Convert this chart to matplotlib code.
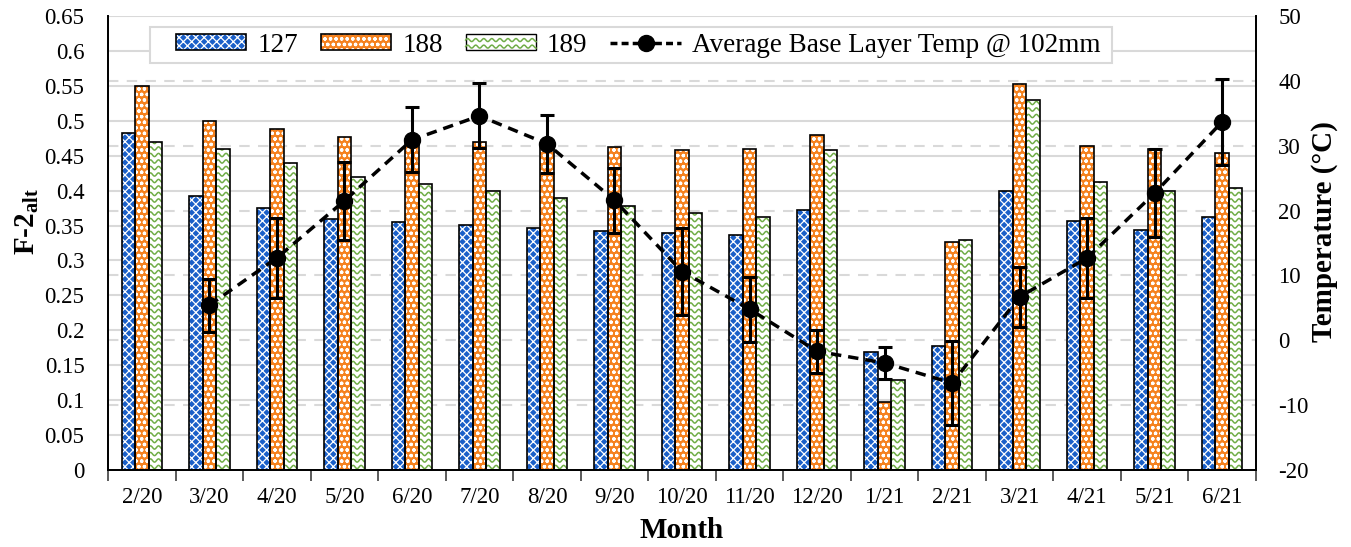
import numpy as np
import matplotlib
matplotlib.use('Agg')
import matplotlib.pyplot as plt
from matplotlib.patches import Rectangle
from matplotlib.lines import Line2D
from matplotlib.collections import LineCollection
from matplotlib.legend_handler import HandlerBase, HandlerTuple
from matplotlib.transforms import blended_transform_factory

plt.rcParams['font.family'] = ['Liberation Serif', 'DejaVu Serif']
plt.rcParams['mathtext.fontset'] = 'custom'
plt.rcParams['mathtext.rm'] = 'Liberation Serif'
plt.rcParams['mathtext.bf'] = 'Liberation Serif:bold'
plt.rcParams['hatch.linewidth'] = 0.9

# Monthly F-2alt values for the three sections and base layer temperature
months = ['2/20', '3/20', '4/20', '5/20', '6/20', '7/20', '8/20', '9/20', '10/20',
          '11/20', '12/20', '1/21', '2/21', '3/21', '4/21', '5/21', '6/21']
f2_127 = [0.482, 0.393, 0.375, 0.360, 0.355, 0.351, 0.347, 0.342, 0.339,
          0.337, 0.372, 0.169, 0.177, 0.400, 0.357, 0.344, 0.362]
f2_188 = [0.550, 0.500, 0.488, 0.477, 0.470, 0.470, 0.465, 0.462, 0.458,
          0.460, 0.480, 0.098, 0.326, 0.553, 0.464, 0.460, 0.454]
f2_189 = [0.470, 0.460, 0.440, 0.420, 0.410, 0.400, 0.390, 0.378, 0.368,
          0.362, 0.458, 0.129, 0.330, 0.530, 0.412, 0.400, 0.404]
temp = [np.nan, 5.4, 12.7, 21.5, 30.9, 34.6, 30.3, 21.6, 10.6,
        4.8, -1.7, -3.5, -6.6, 6.7, 12.7, 22.7, 33.7]
temp_err = [np.nan, 4.1, 6.2, 6.0, 5.0, 5.0, 4.5, 5.0, 6.7,
            5.0, 3.3, 2.4, 6.5, 4.6, 6.2, 6.8, 6.6]

blue = '#1A5FC8'
orange = '#F5821F'
green = '#70AD47'
grid_gray = '#D9D9D9'

fig = plt.figure(figsize=(13.51, 5.47), dpi=100)
ax = fig.add_axes([108 / 1351, 77 / 547, 1148 / 1351, 454 / 547])
ax2 = ax.twinx()

x = np.arange(len(months))
w = 0.2
ax.set_xlim(-0.5, len(months) - 0.5)
ax.set_ylim(0, 0.65)
ax2.set_ylim(-20, 50)

# solid grid for the left axis, dashed grid for the temperature axis
for v in np.arange(0.05, 0.651, 0.05):
    ax.axhline(v, color=grid_gray, lw=1.5, zorder=0)
tr = blended_transform_factory(ax.transAxes, ax2.transData)
for t in range(-10, 41, 10):
    ax.plot([0, 1], [t, t], transform=tr, color=grid_gray, lw=1.5,
            dashes=(5, 4), zorder=0.5)


def hatched_bars(xpos, vals, face, hatch):
    fill = ax.bar(xpos, vals, w, color=face, edgecolor='white', hatch=hatch,
                  lw=0, zorder=2)
    edge = ax.bar(xpos, vals, w, fill=False, edgecolor='black', lw=1.2, zorder=3)
    return fill, edge


b1 = hatched_bars(x - w, f2_127, blue, 'xxxx')
b2 = hatched_bars(x, f2_188, orange, 'ooo')
g_fill = ax.bar(x + w, f2_189, w, color='white', lw=0, zorder=2)
g_edge = ax.bar(x + w, f2_189, w, fill=False, edgecolor='black', lw=1.2, zorder=3)

# wavy green pattern inside the 189 bars, clipped to each bar
fig.canvas.draw()
inv = ax.transData.inverted()
p0 = inv.transform((0, 0))
p1 = inv.transform((1, 1))
dx, dy = p1[0] - p0[0], p1[1] - p0[1]
for bar in g_fill.patches:
    x0, bw, h = bar.get_x(), bar.get_width(), bar.get_height()
    xs = np.linspace(x0, x0 + bw, 40)
    segs = []
    for row in np.arange(3 * dy, h + 4 * dy, 6.5 * dy):
        ys = row + 1.6 * dy * np.sin(2 * np.pi * (xs - x0) / (8 * dx))
        segs.append(np.column_stack([xs, ys]))
    lc = LineCollection(segs, colors=green, linewidths=1.1, zorder=2.5)
    ax.add_collection(lc)
    lc.set_clip_path(bar)

# temperature line with error bars
ax2.errorbar(x, temp, yerr=temp_err, color='black', lw=2.5, dashes=(3, 2),
             marker='o', markersize=11.5, elinewidth=2.2, capsize=5, capthick=2.2,
             zorder=5)

# axes styling
ax.set_xticks(x)
ax.set_xticklabels(months, fontsize=16.5)
ax.set_xticks(np.arange(-0.5, len(months)), minor=True)
ax.tick_params(axis='x', which='major', length=0, pad=12)
ax.tick_params(axis='x', which='minor', length=8, width=1.2, color='#404040')
ax.set_yticks(np.arange(0, 0.651, 0.05))
ax.set_yticklabels([f'{v:g}' for v in np.arange(0, 0.651, 0.05).round(2)], fontsize=16.5)
ax.tick_params(axis='y', length=0, pad=17)
ax2.set_yticks(range(-20, 51, 10))
ax2.set_yticklabels([str(t) for t in range(-20, 51, 10)], fontsize=16.5)
ax2.tick_params(axis='y', length=0, pad=16)

for a in (ax, ax2):
    a.spines['top'].set_visible(False)
    for s in ('left', 'right', 'bottom'):
        a.spines[s].set_color('black')
        a.spines[s].set_linewidth(1.3)

fig.text(27 / 1351, 1 - 222 / 547, 'F-2$_{\\mathbf{alt}}$', fontsize=21,
         fontweight='bold', rotation=90, ha='center', va='center')
fig.text(682 / 1351, 1 - 530 / 547, 'Month', fontsize=21, fontweight='bold',
         ha='center', va='center')
fig.text(1324 / 1351, 1 - 232 / 547, 'Temperature (°C)', fontsize=21,
         fontweight='bold', rotation=90, ha='center', va='center')


class WaveKey:
    pass


class WaveHandler(HandlerBase):
    def create_artists(self, legend, orig_handle, xdescent, ydescent, width,
                       height, fontsize, trans):
        rect = Rectangle((-xdescent, -ydescent), width, height, facecolor='white',
                         edgecolor='black', lw=1, transform=trans)
        xs = np.linspace(-xdescent, -xdescent + width, 80)
        arts = [rect]
        for row in np.arange(-ydescent + 2.5, -ydescent + height, 4.7):
            ys = row + 1.1 * np.sin(2 * np.pi * (xs + xdescent) / 5.8)
            arts.append(Line2D(xs, ys, color=green, lw=1.1, transform=trans))
        return arts


# legend box with wider side padding than the legend frame allows
ax2.add_patch(Rectangle((42 / 1148, 1 - 47 / 454), 962 / 1148, 36 / 454,
                        transform=ax2.transAxes, facecolor='white',
                        edgecolor=grid_gray, lw=1.5, zorder=6))

line_handle = Line2D([], [], color='black', lw=2.5, dashes=(2, 1.2), marker='o',
                     markersize=11.5)
leg = ax2.legend([(b1[0].patches[0], b1[1].patches[0]),
                  (b2[0].patches[0], b2[1].patches[0]),
                  WaveKey(), line_handle],
                 ['127', '188', '189', 'Average Base Layer Temp @ 102mm'],
                 handler_map={tuple: HandlerTuple(ndivide=1),
                              WaveKey: WaveHandler()},
                 loc='center left', bbox_to_anchor=(68 / 1148, 1 - 29 / 454),
                 ncol=4, fontsize=19.5, frameon=False, handlelength=2.6,
                 handleheight=0.55, handletextpad=0.4, columnspacing=0.85,
                 borderpad=0, borderaxespad=0)
leg.set_zorder(7)

plt.savefig('out.png', dpi=100)
